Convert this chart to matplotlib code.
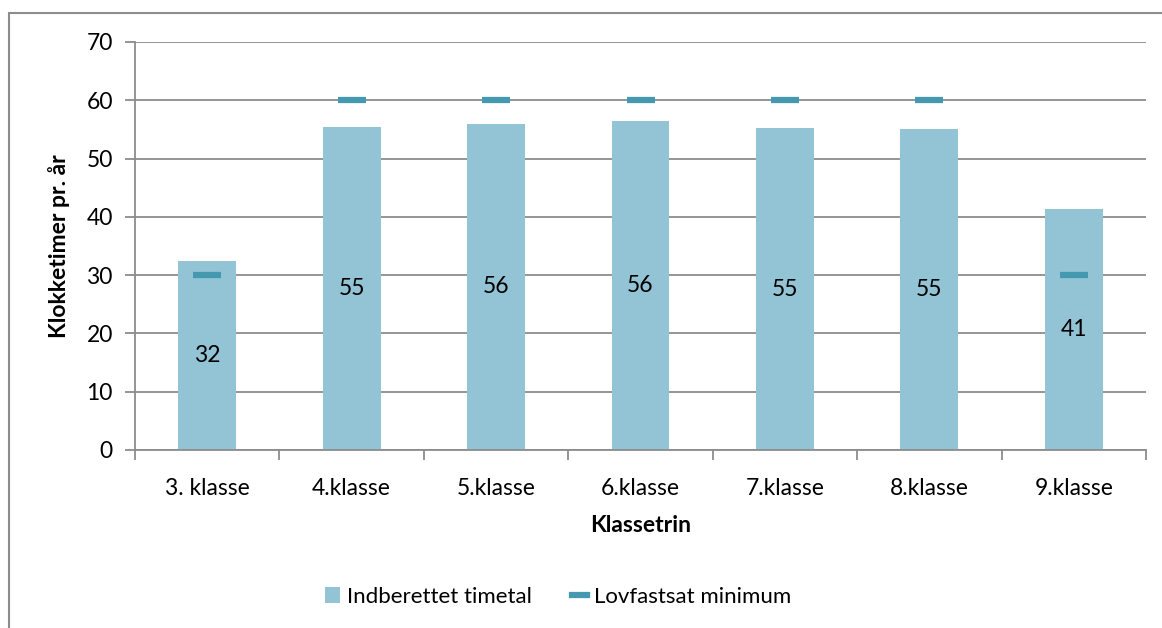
import matplotlib

matplotlib.use("Agg")
import matplotlib.pyplot as plt
from matplotlib.lines import Line2D
from matplotlib.patches import Patch, Rectangle

categories = ["3. klasse", "4.klasse", "5.klasse", "6.klasse", "7.klasse", "8.klasse", "9.klasse"]
reported = [32.4, 55.4, 56.0, 56.4, 55.2, 55.1, 41.3]
minimum = [30, 60, 60, 60, 60, 60, 30]
yticks = [0, 10, 20, 30, 40, 50, 60, 70]

BAR_COLOR = "#93c4d5"
MIN_COLOR = "#4599ae"
GRID_COLOR = "#8c8c8c"

plt.rcParams["font.family"] = ["Lato", "DejaVu Sans"]

W, H = 1162, 628
fig = plt.figure(figsize=(W / 100, H / 100), dpi=100)
ax = fig.add_axes([135 / W, 1 - 450 / H, 1011 / W, 408 / H])

x = list(range(len(categories)))
ax.bar(x, reported, width=0.4, color=BAR_COLOR, zorder=2)
ax.plot(x, minimum, linestyle="none", marker="_", markersize=20,
        markeredgewidth=4.5, color=MIN_COLOR, zorder=3)
for xi, val in zip(x, reported):
    ax.text(xi, val / 2, f"{val:.0f}", ha="center", va="center", fontsize=16.5, color="black", zorder=4)

ax.set_xlim(-0.5, len(categories) - 0.5)
ax.set_ylim(0, 70)
ax.set_yticks(yticks)
ax.yaxis.grid(True, color=GRID_COLOR, linewidth=1.3, zorder=0)
ax.set_axisbelow(True)
for side in ("top", "right"):
    ax.spines[side].set_visible(False)
for side in ("left", "bottom"):
    ax.spines[side].set_color(GRID_COLOR)
    ax.spines[side].set_linewidth(1.3)

ax.set_xticks(x)
ax.set_xticklabels(categories)
ax.set_xticks([i - 0.5 for i in range(len(categories) + 1)], minor=True)
ax.tick_params(axis="x", which="major", length=0, labelsize=16.5, pad=20)
ax.tick_params(axis="x", which="minor", length=7, width=1.3, color=GRID_COLOR)
ax.tick_params(axis="y", length=7, width=1.3, color=GRID_COLOR, labelsize=16.5, pad=9)

ax.set_xlabel("Klassetrin", fontsize=16.5, fontweight="bold", labelpad=12)
ax.set_ylabel("Klokketimer pr. år", fontsize=16.5, fontweight="bold", labelpad=12)

handles = [
    Patch(facecolor=BAR_COLOR, edgecolor="none", label="Indberettet timetal"),
    Line2D([], [], color=MIN_COLOR, linewidth=4.5, label="Lovfastsat minimum"),
]
fig.legend(handles=handles, loc="center", bbox_to_anchor=(558 / W, 1 - 597 / H), ncol=2,
           frameon=False, fontsize=16, handlelength=0.7, handleheight=0.7,
           handletextpad=0.3, columnspacing=1.8)

fig.add_artist(Rectangle((8.5 / W, -0.05), 1.1, 1 - 12.5 / H + 0.05, transform=fig.transFigure,
                         fill=False, edgecolor="#8c8c8c", linewidth=1.5))

fig.savefig("out.png", dpi=100)
